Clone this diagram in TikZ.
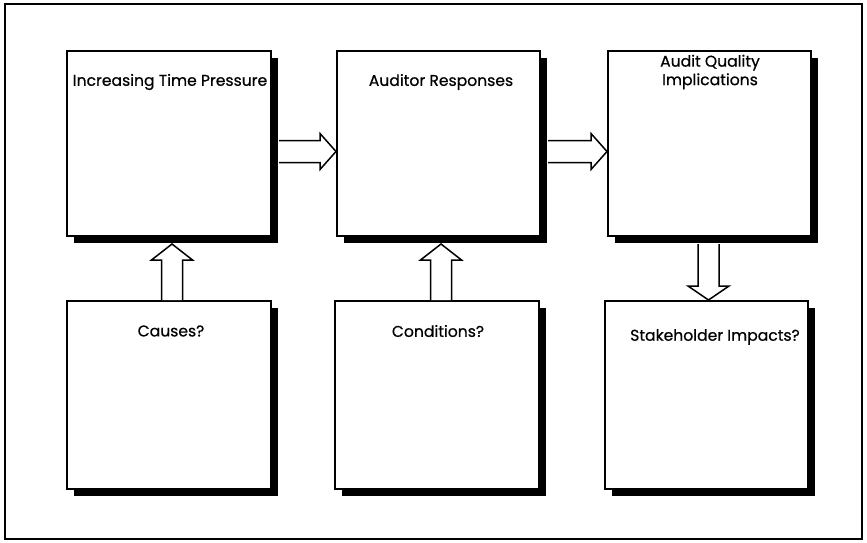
\documentclass[tikz,border=0pt]{standalone}
\usepackage{fontspec}
\setmainfont{Poppins}[FakeBold=0.6]
\usetikzlibrary{calc,shadows}
\begin{document}
\begin{tikzpicture}[x=1pt,y=-1pt,
  box/.style={draw, line width=2pt, fill=white, inner sep=0pt, anchor=north west,
    drop shadow={shadow xshift=7pt, shadow yshift=-7pt, fill=black, opacity=1}},
  lbl/.style={font=\fontsize{15.6}{18.5}\selectfont, align=center, inner sep=0pt},
  barrow/.style={draw, line width=1.5pt, fill=white, line join=miter}
]
\useasboundingbox (0,0) rectangle (867,543);
\draw[line width=1.5pt] (5,4) rectangle (862,539);

% top row
\node[box, minimum width=204pt, minimum height=185pt] (b1) at (66,50) {};
\node[box, minimum width=203pt, minimum height=185pt] (b2) at (336,50) {};
\node[box, minimum width=203pt, minimum height=185pt] (b3) at (607,50) {};
% bottom row
\node[box, minimum width=204pt, minimum height=188pt] (b4) at (66,300) {};
\node[box, minimum width=204pt, minimum height=188pt] (b5) at (334,300) {};
\node[box, minimum width=203pt, minimum height=188pt] (b6) at (604,300) {};

% texts
\node[lbl] (t1) at (170,82) {Increasing Time Pressure};
\node[lbl] (t2) at (441,82) {Auditor Responses};
\node[lbl] (t3) at (710,72) {Audit Quality\\Implications};
\node[lbl] (t4) at (171,331) {Causes?};
\node[lbl] (t5) at (438,331) {Conditions?};
\node[lbl] (t6) at (715,337) {Stakeholder Impacts?};

% right arrows
\draw[barrow] let \p1=($(b1.east)+(7,8)$), \p2=(b2.west) in
  (\x1,\y1+11pt) -- (\x2-16pt,\y1+11pt) -- (\x2-16pt,\y1+18pt) -- (\x2,\y1)
  -- (\x2-16pt,\y1-18pt) -- (\x2-16pt,\y1-11pt) -- (\x1,\y1-11pt);
\draw[barrow] let \p1=($(b2.east)+(7,8)$), \p2=(b3.west) in
  (\x1,\y1+11pt) -- (\x2-16pt,\y1+11pt) -- (\x2-16pt,\y1+18pt) -- (\x2,\y1)
  -- (\x2-16pt,\y1-18pt) -- (\x2-16pt,\y1-11pt) -- (\x1,\y1-11pt);

% up arrows
\draw[barrow] let \p1=($(b4.north)+(3,0)$), \p2=($(b1.south)+(3,7)$) in
  (\x1-10.5pt,\y1) -- (\x1-10.5pt,\y2-16pt) -- (\x1-20.5pt,\y2-16pt) -- (\x1,\y2)
  -- (\x1+20.5pt,\y2-16pt) -- (\x1+10.5pt,\y2-16pt) -- (\x1+10.5pt,\y1);
\draw[barrow] let \p1=($(b5.north)+(4,0)$), \p2=($(b2.south)+(4,7)$) in
  (\x1-10.5pt,\y1) -- (\x1-10.5pt,\y2-16pt) -- (\x1-20.5pt,\y2-16pt) -- (\x1,\y2)
  -- (\x1+20.5pt,\y2-16pt) -- (\x1+10.5pt,\y2-16pt) -- (\x1+10.5pt,\y1);

% down arrow
\draw[barrow] let \p1=($(b3.south)+(-1,7)$), \p2=($(b6.north)+(-1,0)$) in
  (\x1-10.5pt,\y1) -- (\x1-10.5pt,\y2+14pt) -- (\x1-20.5pt,\y2+14pt) -- (\x1,\y2)
  -- (\x1+20.5pt,\y2+14pt) -- (\x1+10.5pt,\y2+14pt) -- (\x1+10.5pt,\y1);
\end{tikzpicture}
\end{document}
